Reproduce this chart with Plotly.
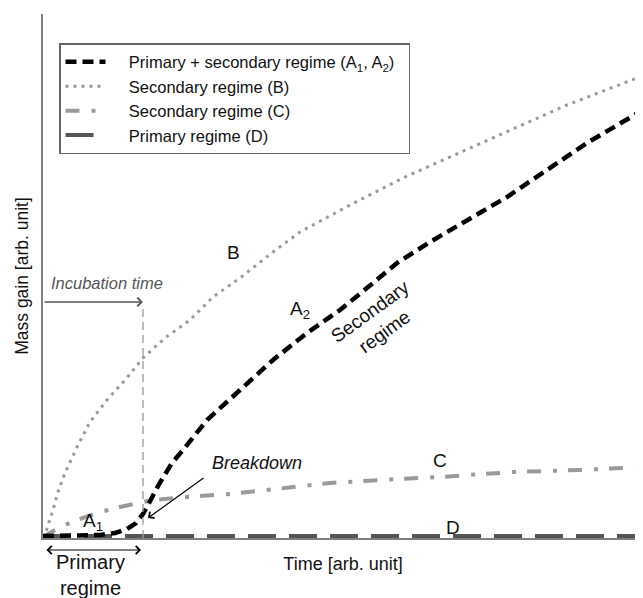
import plotly.graph_objects as go

# ---- data (arbitrary units) ----
# Curve A: primary + secondary regime (A1, A2)
a_time = [0, 27, 57, 72, 84, 93, 100, 105, 110, 115, 121, 129, 140, 152, 164,
          197, 230, 264, 297, 330, 354, 387, 424, 464, 504, 544, 600]
a_mass = [2, 2, 3, 5, 9, 15, 24, 33, 43, 52, 62, 75, 88, 103, 118,
          148, 178, 205, 228, 255, 275, 296, 318, 341, 368, 395, 428]

# Curve B: secondary regime (B)
b_time = [0, 3, 5, 10, 15, 22, 34, 47, 64, 82, 100, 122, 147, 170, 197,
          230, 257, 307, 360, 407, 457, 524, 594, 600]
b_mass = [0, 6, 13, 28, 46, 65, 91, 116, 138, 158, 180, 200, 218, 241, 260,
          286, 306, 333, 360, 381, 403, 433, 460, 462]

# Curve C: secondary regime (C)
c_time = [0, 7, 17, 34, 54, 77, 110, 144, 187, 224, 287, 337, 397, 470, 537, 600]
c_mass = [1, 5, 11, 18, 25, 31, 38, 41, 44, 48, 55, 58, 61, 66, 68, 71]

# Curve D: primary regime (D)
d_time = [0, 600]
d_mass = [2, 2]

incubation_time = 100

series_names = [
    "Primary + secondary regime (A<sub>1</sub>, A<sub>2</sub>)",
    "Secondary regime (B)",
    "Secondary regime (C)",
    "Primary regime (D)",
]

FONT = "Liberation Sans, Arial, sans-serif"
NB = "\u00a0"
PAD = NB * 4

fig = go.Figure()

fig.add_trace(go.Scatter(x=d_time, y=d_mass, mode="lines", name=PAD + series_names[3],
                         legendrank=4,
                         line=dict(color="#555555", width=4, dash="28px,13px")))
fig.add_trace(go.Scatter(x=c_time, y=c_mass, mode="lines", name=PAD + series_names[2],
                         legendrank=3,
                         line=dict(color="#9a9a9a", width=4, dash="14px,12px,4px,11px")))
fig.add_trace(go.Scatter(x=b_time, y=b_mass, mode="lines", name=PAD + series_names[1],
                         legendrank=2,
                         line=dict(color="#9a9a9a", width=3, dash="3px,5px")))
fig.add_trace(go.Scatter(x=a_time, y=a_mass, mode="lines",
                         name=PAD + series_names[0] + NB * 2,
                         legendrank=1,
                         line=dict(color="black", width=4.5, dash="11px,6px")))

def py(p):
    """screen pixel row -> paper y (plot area spans rows 14..538)"""
    return (538 - p) / 524.0

annotations = [
    dict(x=190, y=286, text="B", showarrow=False, font=dict(size=19)),
    dict(x=257, y=228, text="A<sub>2</sub>", showarrow=False, font=dict(size=19)),
    dict(x=50, y=16, text="A<sub>1</sub>", showarrow=False, font=dict(size=19)),
    dict(x=397, y=78, text="C", showarrow=False, font=dict(size=19)),
    dict(x=410, y=11, text="D", showarrow=False, font=dict(size=19)),
    dict(x=334, y=216, text="Secondary<br>regime", showarrow=False,
         textangle=-36, font=dict(size=19)),
    dict(x=214, y=75, text="<i>Breakdown</i>", showarrow=False, font=dict(size=18)),
    dict(x=64, y=255, text="<i>Incubation time</i>", showarrow=False,
         font=dict(size=16.5, color="#555555")),
    # incubation arrow
    dict(x=incubation_time, y=236, ax=0, ay=236, axref="x", ayref="y", text="",
         showarrow=True, arrowhead=4, arrowsize=1.3, arrowwidth=1.3,
         arrowcolor="#555555", standoff=0),
    # breakdown arrow
    dict(x=105, y=20, ax=162, ay=61, axref="x", ayref="y", text="",
         showarrow=True, arrowhead=4, arrowsize=1.3, arrowwidth=1.2,
         arrowcolor="black", standoff=0),
    # primary regime double arrow
    dict(x=98, y=py(550), xref="x", yref="paper", ax=-96, ay=0, text="",
         showarrow=True, arrowhead=4, startarrowhead=4, arrowside="end+start",
         arrowsize=1.3, arrowwidth=1.2, arrowcolor="black", standoff=0, startstandoff=0),
    dict(x=47, y=py(575), xref="x", yref="paper", yanchor="middle", xanchor="center",
         text="Primary<br>regime", showarrow=False, font=dict(size=20)),
]
for a in annotations:
    a.setdefault("xref", "x")
    a.setdefault("yref", "y")

# the page body has an 8px default margin; margins compensate for it
fig.update_layout(
    width=643, height=598,
    margin=dict(l=35, r=8, t=6, b=68, autoexpand=False),
    paper_bgcolor="white", plot_bgcolor="white",
    font=dict(family=FONT, color="#111111", size=15),
    showlegend=True,
    legend=dict(x=(59 - 43) / 600, y=py(43), xanchor="left", yanchor="top",
                bgcolor="white", bordercolor="#666666", borderwidth=1.5,
                font=dict(size=16.5, family=FONT), itemwidth=40, tracegroupgap=0,
                traceorder="normal"),
    annotations=annotations,
    shapes=[dict(type="line", xref="x", yref="y", x0=incubation_time, x1=incubation_time,
                 y0=0, y1=230, line=dict(color="#9a9a9a", width=1.3, dash="8px,5px"))],
    xaxis=dict(range=[0, 600], showgrid=False, zeroline=False, showticklabels=False,
               ticks="", showline=True, linecolor="#808080", linewidth=2, automargin=False,
               title=dict(text=NB * 4 + "Time [arb. unit]", font=dict(size=18), standoff=18)),
    yaxis=dict(range=[0, 524], showgrid=False, zeroline=False, showticklabels=False,
               ticks="", showline=True, linecolor="#808080", linewidth=2, automargin=False,
               title=dict(text="Mass gain [arb. unit]" + NB * 7, font=dict(size=17.5),
                          standoff=8)),
)

fig.write_html("out.html")
